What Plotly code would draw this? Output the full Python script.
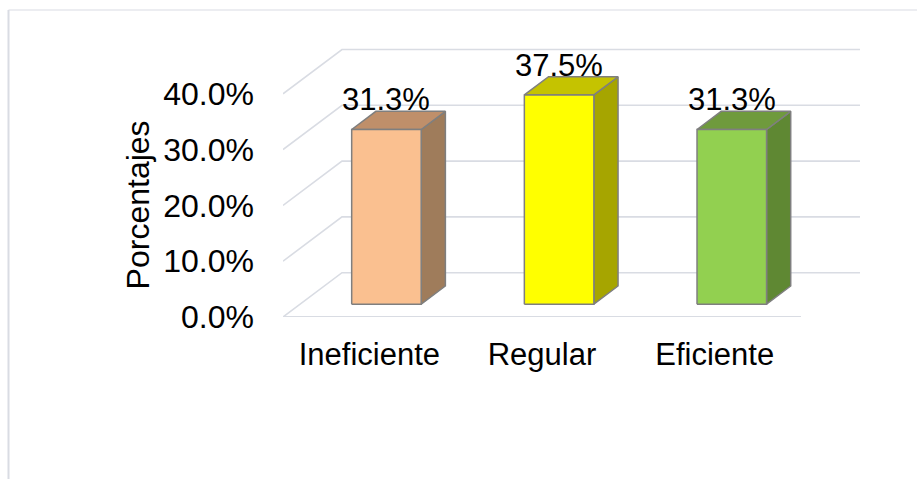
import plotly.graph_objects as go

# ---- data -------------------------------------------------------------
categorias = ["Ineficiente", "Regular", "Eficiente"]
porcentajes = [31.3, 37.5, 31.3]
ticks_y = [0, 10, 20, 30, 40]
ticks_y_text = ["0.0%", "10.0%", "20.0%", "30.0%", "40.0%"]

# ---- styling ----------------------------------------------------------
color_frente = ["#FAC090", "#FFFF00", "#92D050"]
color_lado = ["#9F7C5B", "#A6A500", "#5F8833"]
color_tapa = ["#BF8F6A", "#C5C300", "#6F9A3D"]
borde_barra = "#7F7F7F"
color_grid = "#D9DCE3"
FUENTE = "Arial, Liberation Sans, sans-serif"

# pseudo-3D geometry (in axis units)
PX_CAT = 172.67          # pixels per category band
PX_PCT = 5.58            # pixels per percentage point
PROF_X = 0.3416          # full depth offset along x (category units)
PROF_Y = 7.94            # full depth offset along y (percentage units)
MEDIA_ANCHO = 0.2013     # half bar width (category units)
Z0, Z1 = 0.29, 0.70      # front / back depth of the bars

W, H = 917, 479
ML, MR, MT, MB = 283, 30, 10, 162
x_max = (W - ML - MR) / PX_CAT
y_max = (H - MT - MB) / PX_PCT

fig = go.Figure()

# back wall gridlines and left wall diagonals
for v in ticks_y:
    fig.add_trace(go.Scatter(
        x=[0, PROF_X, PROF_X + len(categorias)],
        y=[v, v + PROF_Y, v + PROF_Y],
        mode="lines", line=dict(color=color_grid, width=1.6),
        hoverinfo="skip", showlegend=False))

# front edge of the floor
fig.add_trace(go.Scatter(
    x=[0, len(categorias)], y=[0, 0], mode="lines",
    line=dict(color=color_grid, width=2.2),
    hoverinfo="skip", showlegend=False))


def poligono(xs, ys, color):
    fig.add_trace(go.Scatter(
        x=xs + [xs[0]], y=ys + [ys[0]], mode="lines", fill="toself",
        fillcolor=color, line=dict(color=borde_barra, width=1.5),
        hoverinfo="skip", showlegend=False))


for i, (cat, v) in enumerate(zip(categorias, porcentajes)):
    c = i + 0.5
    dx0, dy0 = PROF_X * Z0, PROF_Y * Z0
    dx1, dy1 = PROF_X * Z1, PROF_Y * Z1
    izq, der = c - MEDIA_ANCHO, c + MEDIA_ANCHO
    # side face
    poligono([der + dx0, der + dx1, der + dx1, der + dx0],
             [dy0, dy1, v + dy1, v + dy0], color_lado[i])
    # top face
    poligono([izq + dx0, der + dx0, der + dx1, izq + dx1],
             [v + dy0, v + dy0, v + dy1, v + dy1], color_tapa[i])
    # front face
    poligono([izq + dx0, der + dx0, der + dx0, izq + dx0],
             [dy0, dy0, v + dy0, v + dy0], color_frente[i])
    # value label
    fig.add_annotation(
        x=c + dx0, y=v + dy1, text=f"{v:.1f}%", showarrow=False,
        xanchor="center", yanchor="bottom", yshift=-8,
        font=dict(family=FUENTE, size=31, color="black"))

# axis title
fig.add_annotation(
    xref="paper", yref="y", x=(138 - ML) / (W - ML - MR), y=20,
    text="Porcentajes", textangle=-90, showarrow=False,
    xanchor="center", yanchor="middle",
    font=dict(family=FUENTE, size=32, color="black"))

# chart frame
fx = (8.5 - ML) / (W - ML - MR)
fig.add_shape(type="line", xref="paper", yref="paper",
              x0=fx, x1=1.2, y0=1, y1=1,
              line=dict(color=color_grid, width=1.2))
fig.add_shape(type="line", xref="paper", yref="paper",
              x0=fx, x1=fx, y0=1, y1=-1,
              line=dict(color=color_grid, width=2))

fig.update_layout(
    width=W, height=H, margin=dict(l=ML, r=MR, t=MT, b=MB),
    paper_bgcolor="white", plot_bgcolor="white",
    showlegend=False,
    xaxis=dict(range=[0, x_max], tickvals=[i + 0.5 for i in range(len(categorias))],
               ticktext=categorias, showgrid=False, zeroline=False, showline=False,
               ticks="", ticklabelstandoff=16, fixedrange=True,
               tickfont=dict(family=FUENTE, size=31, color="black")),
    yaxis=dict(range=[0, y_max], tickvals=ticks_y, ticktext=ticks_y_text,
               showgrid=False, zeroline=False, showline=False,
               ticks="", ticklabelstandoff=28, fixedrange=True,
               tickfont=dict(family=FUENTE, size=32, color="black")),
)

fig.write_html("out.html")
